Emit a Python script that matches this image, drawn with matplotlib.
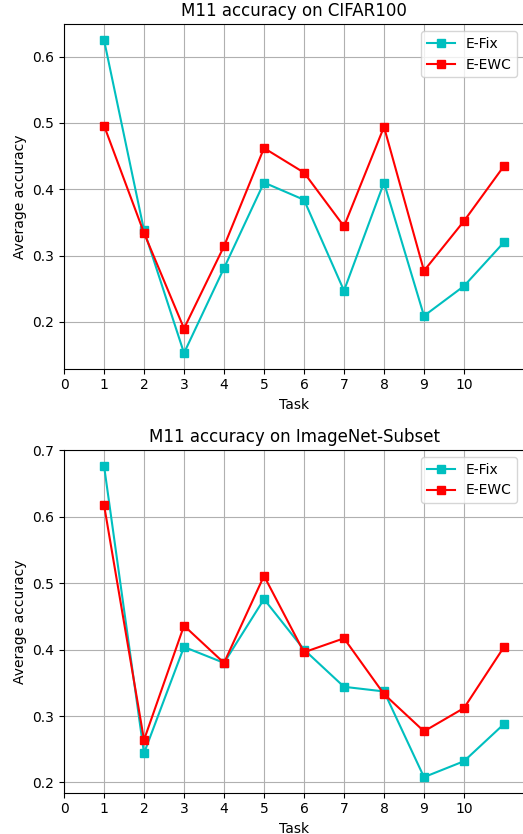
import matplotlib
matplotlib.use('Agg')
import matplotlib.pyplot as plt

# dados
tasks = [1, 2, 3, 4, 5, 6, 7, 8, 9, 10, 11]
tick_labels = [0, 1, 2, 3, 4, 5, 6, 7, 8, 9, 10]

cifar_fix = [0.625, 0.338, 0.153, 0.281, 0.410, 0.384, 0.247, 0.410, 0.209, 0.254, 0.320]
cifar_ewc = [0.496, 0.334, 0.190, 0.314, 0.462, 0.425, 0.344, 0.494, 0.277, 0.352, 0.435]

imnet_fix = [0.677, 0.244, 0.404, 0.380, 0.476, 0.400, 0.344, 0.337, 0.208, 0.232, 0.288]
imnet_ewc = [0.618, 0.264, 0.436, 0.380, 0.511, 0.396, 0.417, 0.333, 0.277, 0.312, 0.404]

fig = plt.figure(figsize=(5.23, 8.34), dpi=100)
ax1 = fig.add_axes([0.1224, 0.5579, 0.8795, 0.4130])
ax2 = fig.add_axes([0.1224, 0.0495, 0.8795, 0.4109])


def desenhar(ax, fix, ewc, titulo):
    ax.plot(tasks, fix, color='c', marker='s', label='E-Fix')
    ax.plot(tasks, ewc, color='r', marker='s', label='E-EWC')
    ax.set_xticks(tick_labels)
    ax.set_xlim(0, 11.5)
    ax.grid(True)
    ax.set_xlabel('Task')
    ax.set_ylabel('Average accuracy')
    ax.set_title(titulo)
    ax.legend(loc='upper right')


desenhar(ax1, cifar_fix, cifar_ewc, 'M11 accuracy on CIFAR100')
desenhar(ax2, imnet_fix, imnet_ewc, 'M11 accuracy on ImageNet-Subset')

fig.savefig('out.png', dpi=100)
